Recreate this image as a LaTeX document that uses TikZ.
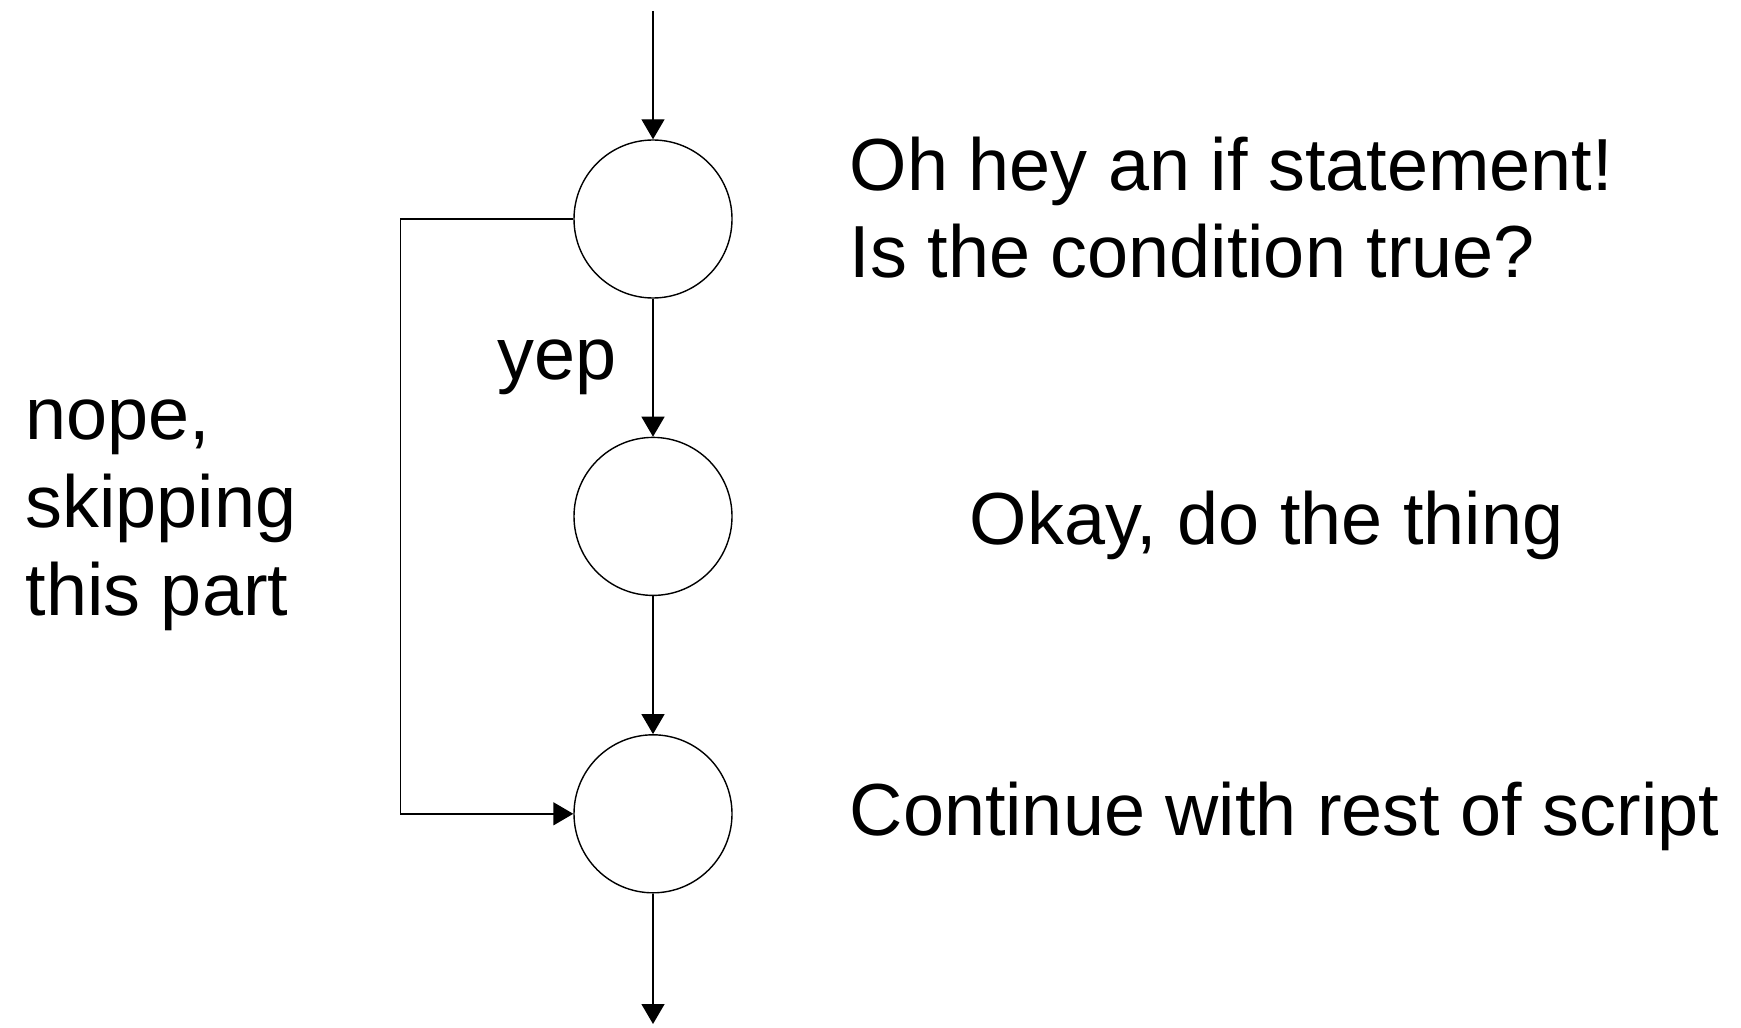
\documentclass[tikz,border=0pt]{standalone}
\usepackage{fontspec}
\setmainfont{Liberation Sans}
\usetikzlibrary{arrows.meta,positioning}
\tikzset{
    -{Triangle[length=2mm,width=2.3mm]},line width=0.9pt,node distance=1.38cm,
    state/.style={circle, draw, minimum size=1.58cm, inner sep=0pt},
    el/.style={inner sep=0pt, align=left, font=\fontsize{21}{25}\selectfont}
}

\begin{document}
\begin{tikzpicture}
    \useasboundingbox (0,0) rectangle (17.41,10.27);
    \node[state] (1) at (6.53,8.08) {};
    \node[state] (2) [below =of 1] {};
    \node[state] (3) [below =of 2] {};
    \coordinate (start) at (6.53,10.16);
    \coordinate (end) at (6.53,0.03);

    \path (start) edge (1);
    \path (1) edge node[el,left=3.6mm] {yep} (2);
    \path (2) edge (3);
    \path (3) edge (end);
    \draw (1.west) -- ++(-1.73,0) |- (3.west);

    % base of a multi-line node sits on its last line
    \node[el,anchor=base west] (ask) at (8.49,7.49) {Oh hey an if statement!\\Is the condition true?};
    \node[el,anchor=base west] (skip) at (0.25,4.12) {nope,\\skipping\\this part};
    \node[el,anchor=base west] (do) at (9.69,4.83) {Okay, do the thing};
    \node[el,anchor=base west] (rest) at (8.49,1.92) {Continue with rest of script};
\end{tikzpicture}
\end{document}
